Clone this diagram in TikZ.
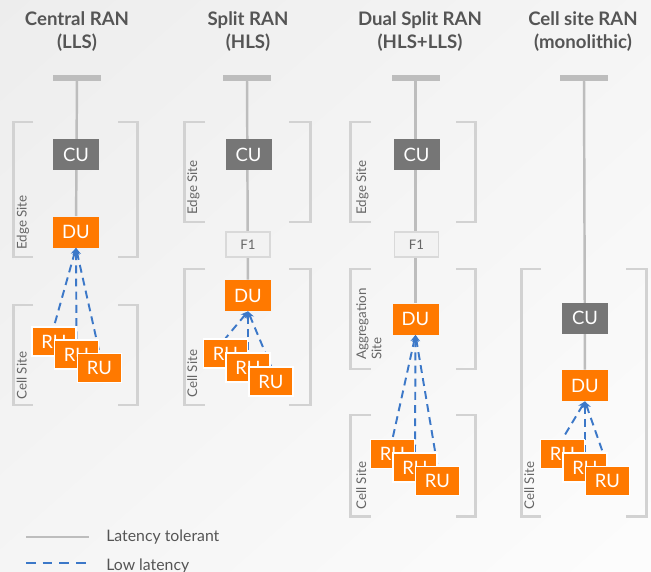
\documentclass[tikz,border=0pt]{standalone}
\usepackage{fontspec}
\setmainfont{Lato}
\usetikzlibrary{arrows.meta,backgrounds,shadings}

\definecolor{ranorange}{HTML}{FF7900}
\definecolor{cugrey}{HTML}{767676}
\definecolor{linegrey}{HTML}{BDBDBD}
\definecolor{bracketgrey}{HTML}{D2D2D2}
\definecolor{lowblue}{HTML}{3C78C8}
\definecolor{titlegrey}{HTML}{555555}
\definecolor{labelgrey}{HTML}{666666}

\tikzset{
    unit/.style={minimum width=0.92cm, minimum height=0.62cm, inner sep=0pt, text=white, font=\fontsize{10.5}{12}\selectfont},
    cu/.style={unit, fill=cugrey},
    du/.style={unit, fill=ranorange},
    ru/.style={unit, fill=ranorange, draw=white, line width=0.8pt, minimum width=0.88cm, minimum height=0.58cm},
    fone/.style={minimum width=0.88cm, minimum height=0.5cm, inner sep=0pt, fill=black!5, draw=black!15, line width=0.8pt, text=labelgrey, font=\fontsize{7.5}{9}\selectfont},
    topbar/.style={fill=linegrey, minimum width=0.96cm, minimum height=0.1cm, inner sep=0pt},
    tolerant/.style={draw=linegrey, line width=1.4pt},
    lowlat/.style={draw=lowblue, line width=1.1pt, dash pattern=on 4.5pt off 3pt},
    tolu/.style={lowlat, {Stealth[length=4pt,width=4pt]}-},
    legdash/.style={draw=lowblue, line width=1.1pt, dash pattern=on 5.5pt off 4pt},
    bracket/.style={draw=bracketgrey, line width=1.7pt},
    sitelabel/.style={rotate=90, anchor=north west, align=left, inner sep=0pt, text=labelgrey, font=\fontsize{7.6}{8.6}\selectfont},
    title/.style={align=center, text=titlegrey, font=\bfseries\fontsize{10.6}{13}\selectfont},
    legend/.style={anchor=west, inner sep=0pt, text=titlegrey, font=\fontsize{9}{10}\selectfont}
}

\begin{document}
\begin{tikzpicture}
    \useasboundingbox (0,0) rectangle (13.02,11.42);

    % titles
    \node[title] (t1) at (1.54,10.79) {Central RAN\\(LLS)};
    \node[title] (t2) at (4.96,10.79) {Split RAN\\(HLS)};
    \node[title] (t3) at (8.40,10.79) {Dual Split RAN\\(HLS+LLS)};
    \node[title] (t4) at (11.66,10.79) {Cell site RAN\\(monolithic)};

    % Central RAN
    \node[topbar] (top1) at (1.54,9.86) {};
    \node[cu] (cu1) at (1.52,8.33) {CU};
    \node[du] (du1) at (1.52,6.78) {DU};
    \node[ru] (ru1a) at (1.08,4.59) {RU};
    \node[ru] (ru1b) at (1.53,4.33) {RU};
    \node[ru] (ru1c) at (1.99,4.06) {RU};

    % Split RAN
    \node[topbar] (top2) at (4.94,9.86) {};
    \node[cu] (cu2) at (4.97,8.33) {CU};
    \node[fone] (f1b) at (4.96,6.53) {F1};
    \node[du] (du2) at (4.96,5.51) {DU};
    \node[ru] (ru2a) at (4.51,4.35) {RU};
    \node[ru] (ru2b) at (4.96,4.07) {RU};
    \node[ru] (ru2c) at (5.42,3.79) {RU};

    % Dual Split RAN
    \node[topbar] (top3) at (8.31,9.86) {};
    \node[cu] (cu3) at (8.33,8.33) {CU};
    \node[fone] (f1c) at (8.33,6.53) {F1};
    \node[du] (du3) at (8.31,5.04) {DU};
    \node[ru] (ru3a) at (7.85,2.34) {RU};
    \node[ru] (ru3b) at (8.30,2.07) {RU};
    \node[ru] (ru3c) at (8.75,1.80) {RU};

    % Cell site RAN
    \node[topbar] (top4) at (11.68,9.86) {};
    \node[cu] (cu4) at (11.70,5.06) {CU};
    \node[du] (du4) at (11.70,3.71) {DU};
    \node[ru] (ru4a) at (11.25,2.34) {RU};
    \node[ru] (ru4b) at (11.70,2.07) {RU};
    \node[ru] (ru4c) at (12.15,1.80) {RU};

    % site labels
    \node[sitelabel] (edge1) at (0.33,6.42) {Edge Site};
    \node[sitelabel] (cell1) at (0.33,3.42) {Cell Site};
    \node[sitelabel] (edge2) at (3.74,7.12) {Edge Site};
    \node[sitelabel] (cell2) at (3.74,3.46) {Cell Site};
    \node[sitelabel] (edge3) at (7.12,7.12) {Edge Site};
    \node[sitelabel] (aggr3) at (7.12,4.22) {Aggregation\\Site};
    \node[sitelabel] (cell3) at (7.12,1.22) {Cell Site};
    \node[sitelabel] (cell4) at (10.48,1.22) {Cell Site};

    % legend
    \coordinate (leg1a) at (0.52,0.68);
    \coordinate (leg1b) at (1.78,0.68);
    \coordinate (leg2a) at (0.52,0.16);
    \coordinate (leg2b) at (1.78,0.16);
    \node[legend] (legtol) at (2.12,0.68) {Latency tolerant};
    \node[legend] (leglow) at (2.12,0.10) {Low latency};

    \begin{scope}[on background layer]
        \shade[upper left=black!7, upper right=black!4, lower left=black!4, lower right=black!1] (0,0) rectangle (13.02,11.42);

        % brackets
        \draw[bracket] (0.66,8.98) -- (0.27,8.98) -- (0.27,6.28) -- (0.66,6.28);
        \draw[bracket] (2.36,8.98) -- (2.75,8.98) -- (2.75,6.28) -- (2.36,6.28);
        \draw[bracket] (0.66,5.32) -- (0.27,5.32) -- (0.27,3.32) -- (0.66,3.32);
        \draw[bracket] (2.36,5.32) -- (2.75,5.32) -- (2.75,3.32) -- (2.36,3.32);

        \draw[bracket] (4.10,8.98) -- (3.69,8.98) -- (3.69,6.98) -- (4.10,6.98);
        \draw[bracket] (5.78,8.98) -- (6.21,8.98) -- (6.21,6.98) -- (5.78,6.98);
        \draw[bracket] (4.10,6.04) -- (3.69,6.04) -- (3.69,3.32) -- (4.10,3.32);
        \draw[bracket] (5.78,6.04) -- (6.21,6.04) -- (6.21,3.32) -- (5.78,3.32);

        \draw[bracket] (7.42,8.98) -- (7.01,8.98) -- (7.01,6.98) -- (7.42,6.98);
        \draw[bracket] (9.12,8.98) -- (9.51,8.98) -- (9.51,6.98) -- (9.12,6.98);
        \draw[bracket] (7.42,6.04) -- (7.01,6.04) -- (7.01,4.04) -- (7.42,4.04);
        \draw[bracket] (9.12,6.04) -- (9.51,6.04) -- (9.51,4.04) -- (9.12,4.04);
        \draw[bracket] (7.42,3.12) -- (7.01,3.12) -- (7.01,1.10) -- (7.42,1.10);
        \draw[bracket] (9.12,3.12) -- (9.51,3.12) -- (9.51,1.10) -- (9.12,1.10);

        \draw[bracket] (10.82,6.04) -- (10.43,6.04) -- (10.43,1.10) -- (10.82,1.10);
        \draw[bracket] (12.52,6.04) -- (12.93,6.04) -- (12.93,1.10) -- (12.52,1.10);

        % latency tolerant links
        \draw[tolerant] (top1.center) -- (du1);
        \draw[tolerant] (top2.center) -- (du2);
        \draw[tolerant] (top3.center) -- (du3);
        \draw[tolerant] (top4.center) -- (du4);

        % low latency links
        \draw[tolu] (du1.south) -- (ru1a.north);
        \draw[tolu] (du1.south) -- (ru1b.north);
        \draw[tolu] (du1.south) -- (ru1c.north);
        \draw[tolu] (du2.south) -- (ru2a.north);
        \draw[tolu] (du2.south) -- (ru2b.north);
        \draw[tolu] (du2.south) -- (ru2c.north);
        \draw[tolu] (du3.south) -- (ru3a.north);
        \draw[tolu] (du3.south) -- (ru3b.north);
        \draw[tolu] (du3.south) -- (ru3c.north);
        \draw[tolu] (du4.south) -- (ru4a.north);
        \draw[tolu] (du4.south) -- (ru4b.north);
        \draw[tolu] (du4.south) -- (ru4c.north);

        \draw[tolerant] (leg1a) -- (leg1b);
        \draw[legdash] (leg2a) -- (leg2b);
    \end{scope}
\end{tikzpicture}
\end{document}
